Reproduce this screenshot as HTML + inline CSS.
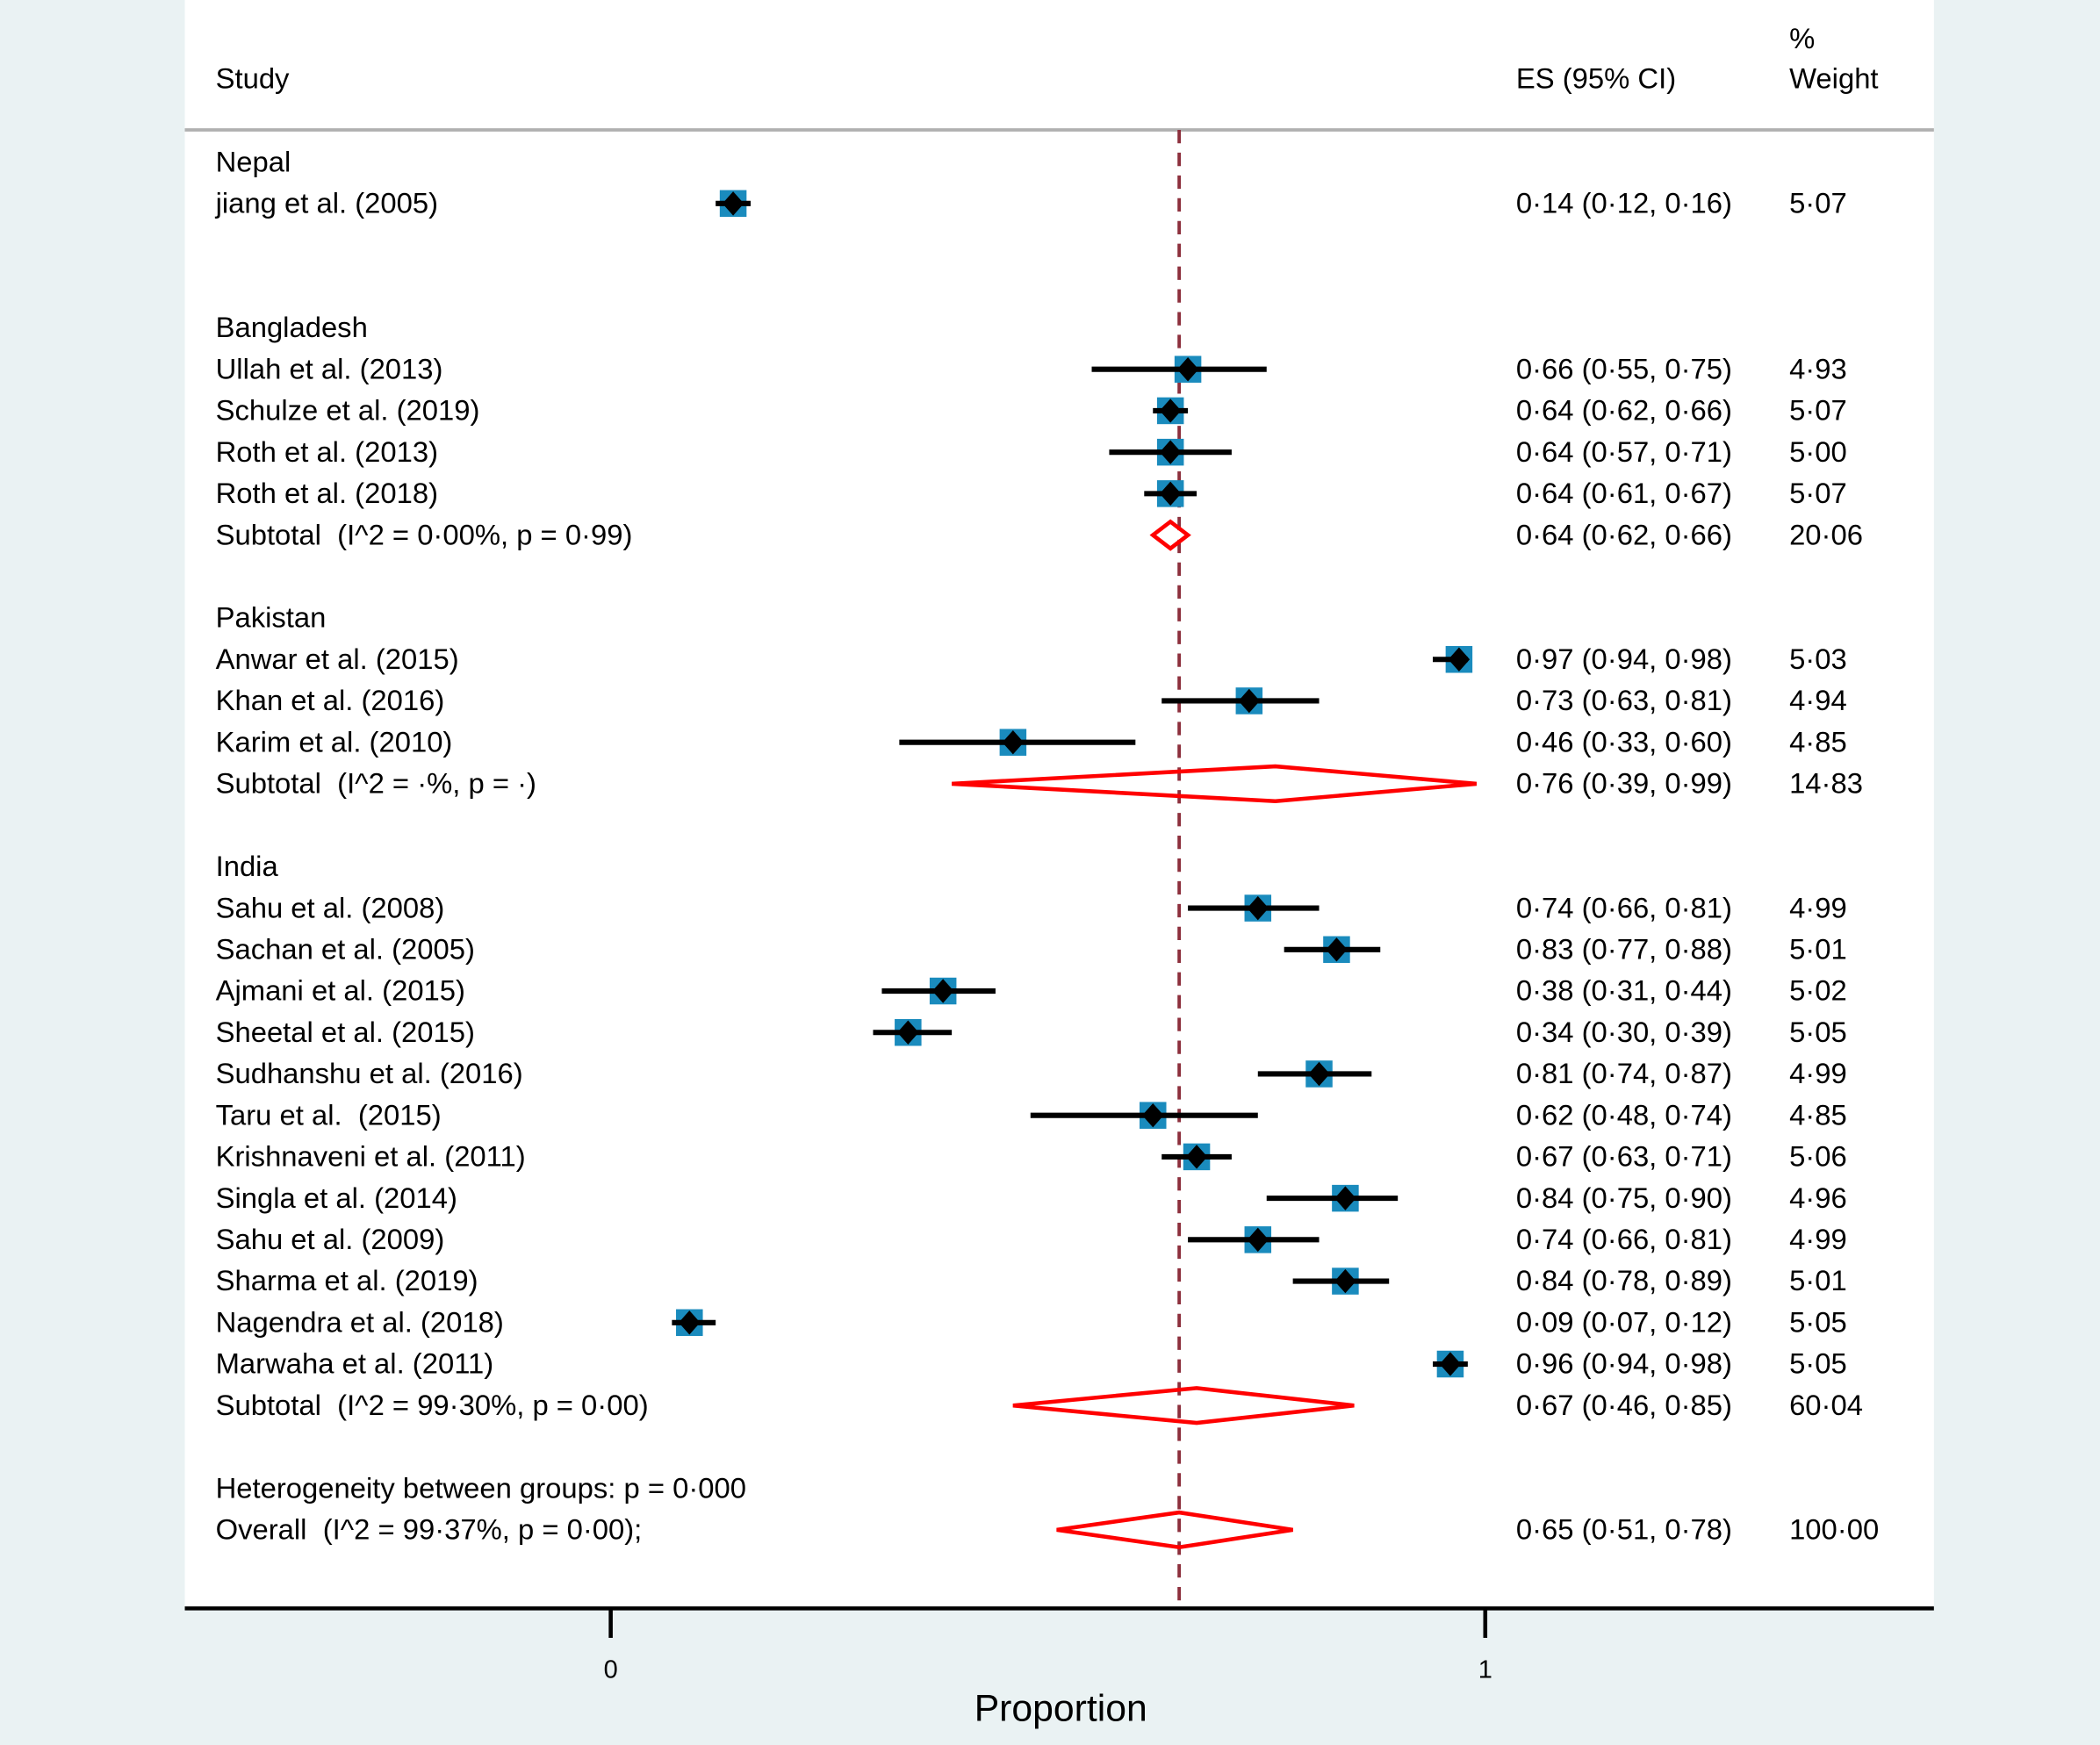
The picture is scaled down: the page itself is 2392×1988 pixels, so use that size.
<!DOCTYPE html>
<html><head><meta charset="utf-8"><style>
html,body{margin:0;padding:0;background:#eaf2f3;}
svg{display:block;}
text{font-family:"Liberation Sans",Arial,sans-serif;fill:#000;white-space:pre;}
</style></head><body>
<svg id="chart" width="2392" height="1988" viewBox="0 0 1568 1303" preserveAspectRatio="none" xmlns="http://www.w3.org/2000/svg" xml:space="preserve">
<rect x="0" y="0" width="1568" height="1303" fill="#eaf2f3"/>
<rect x="138" y="0" width="1306" height="1201" fill="#ffffff"/>
<text x="161" y="66" font-size="21.5">Study</text>
<text x="1132" y="66" font-size="21.5">ES (95% CI)</text>
<text x="1336" y="36" font-size="21.5">%</text>
<text x="1336" y="66" font-size="21.5">Weight</text>
<line x1="138" y1="97" x2="1444" y2="97" stroke="#b0b0b0" stroke-width="2.5"/>
<g id="dash"></g>
<g id="rows"></g>
<line x1="138" y1="1201" x2="1444" y2="1201" stroke="#000" stroke-width="3"/>
<g id="axis"></g>
<text x="792" y="1285" font-size="28" text-anchor="middle">Proportion</text>
</svg>
<script>
// ---- data ----
var headings = ["Nepal","Bangladesh","Pakistan","India","Heterogeneity between groups: p = 0·000"];
var headingRows = [0,4,11,17,32];
var studyLabels = ["jiang et al. (2005)","Ullah et al. (2013)","Schulze et al. (2019)","Roth et al. (2013)","Roth et al. (2018)","Anwar et al. (2015)","Khan et al. (2016)","Karim et al. (2010)","Sahu et al. (2008)","Sachan et al. (2005)","Ajmani et al. (2015)","Sheetal et al. (2015)","Sudhanshu et al. (2016)","Taru et al.  (2015)","Krishnaveni et al. (2011)","Singla et al. (2014)","Sahu et al. (2009)","Sharma et al. (2019)","Nagendra et al. (2018)","Marwaha et al. (2011)"];
var studyRows = [1,5,6,7,8,12,13,14,18,19,20,21,22,23,24,25,26,27,28,29];
var studyES = [0.14,0.66,0.64,0.64,0.64,0.97,0.73,0.46,0.74,0.83,0.38,0.34,0.81,0.62,0.67,0.84,0.74,0.84,0.09,0.96];
var studyLo = [0.12,0.55,0.62,0.57,0.61,0.94,0.63,0.33,0.66,0.77,0.31,0.30,0.74,0.48,0.63,0.75,0.66,0.78,0.07,0.94];
var studyHi = [0.16,0.75,0.66,0.71,0.67,0.98,0.81,0.60,0.81,0.88,0.44,0.39,0.87,0.74,0.71,0.90,0.81,0.89,0.12,0.98];
var studyWeight = ["5·07","4·93","5·07","5·00","5·07","5·03","4·94","4·85","4·99","5·01","5·02","5·05","4·99","4·85","5·06","4·96","4·99","5·01","5·05","5·05"];
var poolLabels = ["Subtotal  (I^2 = 0·00%, p = 0·99)","Subtotal  (I^2 = ·%, p = ·)","Subtotal  (I^2 = 99·30%, p = 0·00)","Overall  (I^2 = 99·37%, p = 0·00);"];
var poolRows = [9,15,30,33];
var poolES = [0.64,0.76,0.67,0.65];
var poolLo = [0.62,0.39,0.46,0.51];
var poolHi = [0.66,0.99,0.85,0.78];
var poolWeight = ["20·06","14·83","60·04","100·00"];
var overallES = 0.65;
var tickValues = [0,1];
var tickLabels = ["0","1"];
// ---- scales ----
function xs(v){ return 456 + v*653; }
function ys(r){ return 121 + r*30.95; }
function fmt(v){ return v.toFixed(2).replace('.', '·'); }
var NS="http://www.w3.org/2000/svg";
function mk(tag, attrs, parent, txt){
  var e=document.createElementNS(NS,tag);
  for(var k in attrs) e.setAttribute(k,attrs[k]);
  if(txt!==undefined) e.textContent=txt;
  parent.appendChild(e); return e;
}
var FS=21.5;
var rows=document.getElementById('rows');
var dashG=document.getElementById('dash');
var axisG=document.getElementById('axis');
var dl=mk('line',{x1:xs(overallES),x2:xs(overallES),y1:97,y2:1200,stroke:'#8c2f3c','stroke-width':2.5,'stroke-dasharray':'10,7'},dashG);


headings.forEach(function(h,i){
  var t=mk('text',{x:161,y:ys(headingRows[i])+7,'font-size':FS},rows,h);
  
  
});
studyLabels.forEach(function(lab,i){
  var y=ys(studyRows[i]);
  var t=mk('text',{x:161,y:y+7,'font-size':FS},rows,lab);
  
  
  var e=mk('text',{x:1132,y:y+7,'font-size':FS},rows,fmt(studyES[i])+' ('+fmt(studyLo[i])+', '+fmt(studyHi[i])+')');
  
  
  var w=mk('text',{x:1336,y:y+7,'font-size':FS},rows,studyWeight[i]);
  
  
  var cx=xs(studyES[i]);
  var sq=mk('rect',{x:cx-10,y:y-10,width:20,height:20,fill:'#1a8bbd'},rows);
  
  
  var ci=mk('line',{x1:xs(studyLo[i]),x2:xs(studyHi[i]),y1:y,y2:y,stroke:'#000','stroke-width':4},rows);
  
  
  var d=mk('polygon',{points:(cx-8)+','+y+' '+cx+','+(y-9)+' '+(cx+8)+','+y+' '+cx+','+(y+9),fill:'#000'},rows);
  
  
});
poolLabels.forEach(function(lab,i){
  var y=ys(poolRows[i]);
  var t=mk('text',{x:161,y:y+7,'font-size':FS},rows,lab);
  
  
  var e=mk('text',{x:1132,y:y+7,'font-size':FS},rows,fmt(poolES[i])+' ('+fmt(poolLo[i])+', '+fmt(poolHi[i])+')');
  
  
  var w=mk('text',{x:1336,y:y+7,'font-size':FS},rows,poolWeight[i]);
  
  
  var l=xs(poolLo[i]),c=xs(poolES[i]),r=xs(poolHi[i]);
  var h=(r-l)<30?10:13;
  var d=mk('polygon',{points:l+','+y+' '+c+','+(y-h)+' '+r+','+y+' '+c+','+(y+h),fill:'none',stroke:'#ff0000','stroke-width':3},rows);
  
  
});
tickValues.forEach(function(v,i){
  var tk=mk('line',{x1:xs(v),x2:xs(v),y1:1201,y2:1223,stroke:'#000','stroke-width':3},axisG);
  
  
  var tl=mk('text',{x:xs(v),y:1253,'font-size':19,'text-anchor':'middle'},axisG,tickLabels[i]);
  
  
});
</script>
</body></html>
